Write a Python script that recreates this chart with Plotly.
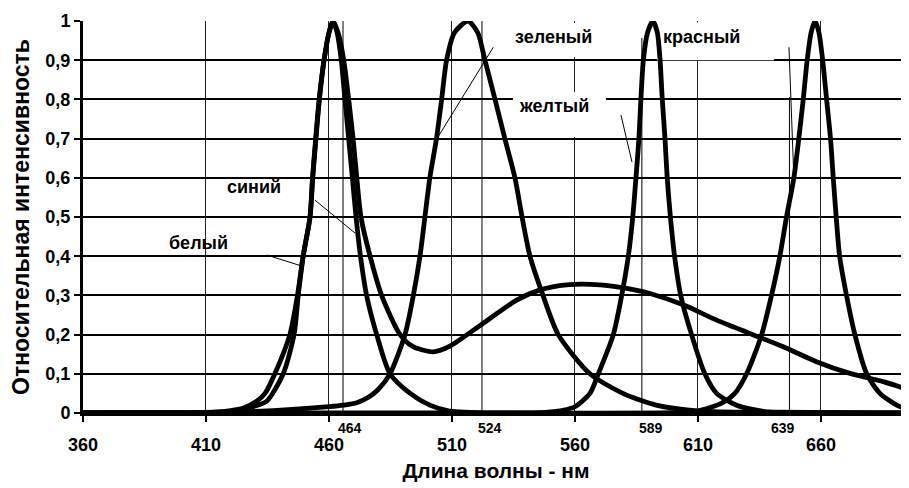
import plotly.graph_objects as go

# ---------------- data ----------------
blue_x = [360, 400, 415, 420, 425, 430, 434.7, 441.4, 445.8, 447.5, 449.5, 452.3, 453.4, 454.7, 456.1, 458, 460, 461.6,
          463.3, 465, 466.5, 468, 469.5, 471, 472.8, 475.3, 479.4, 484.8, 493, 501, 509, 530, 600, 695.8]
blue_y = [0, 0, 0.002, 0.004, 0.008, 0.018, 0.03, 0.1, 0.2, 0.3, 0.4, 0.5, 0.6, 0.7, 0.8, 0.9, 0.97, 1.0,
          0.97, 0.9, 0.8, 0.7, 0.6, 0.5, 0.4, 0.3, 0.2, 0.1, 0.05, 0.02, 0.005, 0.0, 0.0, 0.0]

white_x = [360, 400, 415, 420, 425, 430.6, 434, 438, 444.1, 447.2, 449.5, 452.3, 453.3, 454.6, 456, 458, 460, 461.6,
           463.7, 466, 468, 469.8, 471.3, 473, 476.7, 481.4, 488.9, 494, 502.3, 509, 522.7, 536.3, 545.8, 556.6,
           570.2, 581, 590.5, 604, 617.6, 631.1, 644.7, 658.2, 671.8, 685.3, 695.8]
white_y = [0, 0.001, 0.003, 0.006, 0.012, 0.03, 0.05, 0.1, 0.2, 0.3, 0.4, 0.5, 0.6, 0.7, 0.8, 0.9, 0.97, 1.0,
           0.97, 0.9, 0.8, 0.7, 0.6, 0.5, 0.4, 0.3, 0.2, 0.17, 0.156, 0.17, 0.229, 0.288, 0.314, 0.327,
           0.327, 0.318, 0.305, 0.276, 0.237, 0.203, 0.169, 0.131, 0.101, 0.08, 0.059]

green_x = [360, 410, 430, 445, 460, 466, 471.3, 476, 480, 484.8, 490.9, 494.3, 497, 499, 501, 503.7, 505.8, 507.8,
           511, 516.5, 520.5, 523.4, 527.5, 531.5, 535.6, 538.5, 541.7, 547, 553.2, 566.1, 579.5, 593, 611, 640, 695.8]
green_y = [0, 0, 0.004, 0.009, 0.016, 0.02, 0.026, 0.04, 0.06, 0.1, 0.2, 0.3, 0.4, 0.5, 0.6, 0.7, 0.8, 0.9,
           0.97, 1.0, 0.97, 0.9, 0.8, 0.7, 0.6, 0.5, 0.4, 0.3, 0.2, 0.1, 0.05, 0.02, 0.005, 0.002, 0.0]

yellow_x = [360, 540, 550, 555, 560, 566.1, 569.5, 575.6, 579, 581.7, 583.5, 584.8, 586, 586.8, 587.8, 589.5, 591.7,
            593.5, 594.6, 595.5, 596.6, 597.5, 598.8, 600.5, 603, 607.4, 612.8, 617.6, 625.7, 637.9, 650, 695.8]
yellow_y = [0, 0, 0.003, 0.007, 0.016, 0.05, 0.1, 0.2, 0.3, 0.4, 0.5, 0.6, 0.7, 0.8, 0.9, 0.97, 1.0,
            0.97, 0.9, 0.8, 0.7, 0.6, 0.5, 0.4, 0.3, 0.2, 0.1, 0.05, 0.02, 0.003, 0.0, 0.0]

red_x = [360, 600, 610, 619.6, 625, 629.8, 635.9, 639.9, 643.3, 646, 649, 651, 652.8, 654.4, 656, 657.6,
         659.2, 660.7, 662.3, 663.9, 665, 666.2, 667.6, 670.4, 673.8, 678.6, 684, 690.8, 695.8]
red_y = [0, 0, 0.005, 0.025, 0.05, 0.1, 0.2, 0.3, 0.4, 0.5, 0.6, 0.7, 0.8, 0.9, 0.97, 1.0,
         0.97, 0.9, 0.8, 0.7, 0.6, 0.5, 0.4, 0.3, 0.2, 0.1, 0.05, 0.02, 0.008]

x_tick_values = [360, 410, 460, 510, 560, 610, 660]
x_tick_labels = ["360", "410", "460", "510", "560", "610", "660"]
y_tick_values = [0, 0.1, 0.2, 0.3, 0.4, 0.5, 0.6, 0.7, 0.8, 0.9, 1.0]
y_tick_labels = ["0", "0,1", "0,2", "0,3", "0,4", "0,5", "0,6", "0,7", "0,8", "0,9", "1"]

peak_labels = ["464", "524", "589", "639"]
peak_line_x = [465.7, 522.2, 587.2, 647.2]
peak_line_top = [1.0, 1.0, 0.957, 0.806]
peak_label_x = [468.5, 525.4, 590.9, 644.6]

series_names = ["синий", "белый", "зеленый", "желтый", "красный"]

# ---------------- figure ----------------
FONT = "Liberation Sans"
fig = go.Figure()
for name, xs, ys in [("синий", blue_x, blue_y), ("белый", white_x, white_y), ("зеленый", green_x, green_y),
                     ("желтый", yellow_x, yellow_y), ("красный", red_x, red_y)]:
    fig.add_trace(go.Scatter(x=xs, y=ys, name=name, mode="lines",
                             line=dict(color="black", width=4.8, shape="spline", smoothing=0.7),
                             showlegend=False, hoverinfo="x+y+name"))

shapes = []
# peak marker lines
for px, top in zip(peak_line_x, peak_line_top):
    shapes.append(dict(type="line", xref="x", yref="y", x0=px, x1=px, y0=0, y1=top,
                       line=dict(color="black", width=1), layer="between"))
# white label boxes (cover gridlines, below curves)
for x0, x1, y0, y1 in [(532.8, 570.0, 0.908, 0.995), (534.8, 572.6, 0.704, 0.819), (593.3, 640.9, 0.9, 0.997)]:
    shapes.append(dict(type="rect", xref="x", yref="y", x0=x0, x1=x1, y0=y0, y1=y1,
                       fillcolor="white", line=dict(width=0), layer="between"))
# leader lines
for x0, y0, x1, y1 in [(526.8, 0.933, 504.3, 0.704), (578.7, 0.760, 583.2, 0.640), (647.0, 0.933, 649.0, 0.599),
                       (454.3, 0.543, 470.6, 0.459), (434.7, 0.403, 448.9, 0.375)]:
    shapes.append(dict(type="line", xref="x", yref="y", x0=x0, x1=x1, y0=y0, y1=y1,
                       line=dict(color="black", width=1), layer="between"))

annotations = []
label_pos = {"синий": (429.7, 0.577), "белый": (407.0, 0.434), "зеленый": (551.3, 0.959),
             "желтый": (551.5, 0.783), "красный": (611.6, 0.959)}
for name in series_names:
    lx, ly = label_pos[name]
    annotations.append(dict(x=lx, y=ly, xref="x", yref="y", text=name, showarrow=False,
                            font=dict(family=FONT, size=18, color="black", weight="bold")))
for txt, lx in zip(peak_labels, peak_label_x):
    annotations.append(dict(x=lx, y=-0.037, xref="x", yref="paper", text=txt, showarrow=False,
                            xanchor="center", yanchor="middle",
                            font=dict(family=FONT, size=14, color="black", weight="bold")))

# the page body has an 8px default margin, so the figure is offset by 8px
fig.update_layout(
    width=901, height=480,
    margin=dict(l=75, r=0, t=13, b=75),
    paper_bgcolor="white", plot_bgcolor="white",
    font=dict(family=FONT, color="black"),
    shapes=shapes, annotations=annotations,
    xaxis=dict(range=[360, 695.8], tickvals=x_tick_values, ticktext=x_tick_labels,
               automargin=False,
               showgrid=True, gridcolor="#222222", gridwidth=1,
               showline=True, linecolor="black", linewidth=3,
               ticks="outside", ticklen=6, tickwidth=2, tickcolor="black",
               ticklabelstandoff=7,
               zeroline=False,
               tickfont=dict(family=FONT, size=18, color="black", weight="bold"),
               title=dict(text="Длина волны - нм", standoff=10,
                          font=dict(family=FONT, size=21, color="black", weight="bold"))),
    yaxis=dict(range=[0, 1], tickvals=y_tick_values, ticktext=y_tick_labels,
               automargin=False,
               showgrid=True, gridcolor="black", gridwidth=2,
               showline=True, linecolor="black", linewidth=3,
               ticks="outside", ticklen=6, tickwidth=2, tickcolor="black",
               zeroline=False,
               tickfont=dict(family=FONT, size=18, color="black", weight="bold"),
               title=dict(text="Относительная интенсивность", standoff=12,
                          font=dict(family=FONT, size=23, color="black", weight="bold"))),
)

fig.write_html("out.html")
